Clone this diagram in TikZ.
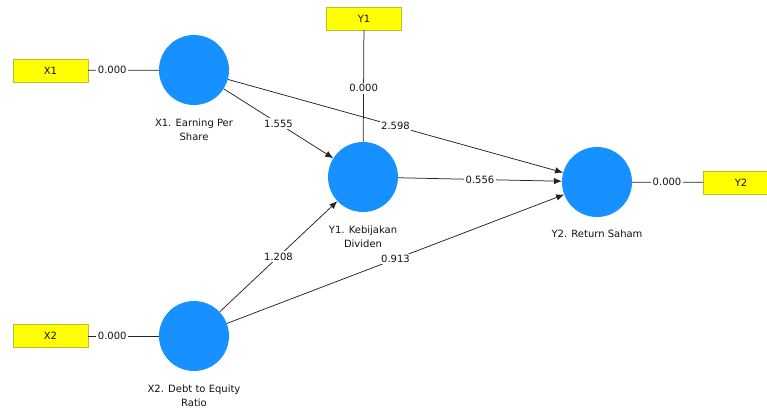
\documentclass[tikz,border=0pt]{standalone}
\usepackage{fontspec}
\setsansfont{DejaVu Sans}
\usetikzlibrary{arrows.meta}

\begin{document}
\begin{tikzpicture}[x=1pt, y=-1pt, line join=round,
    construct/.style={circle, fill=latentfill, minimum size=70pt, inner sep=0pt},
    indicator/.style={rectangle, draw=boxborder, fill=boxfill, minimum width=75pt,
        minimum height=23pt, inner sep=0pt, text=captext,
        font=\sffamily\fontsize{10}{12}\selectfont},
    caption/.style={anchor=north, align=center, inner sep=0pt, text=captext,
        font=\sffamily\fontsize{10}{13.5}\selectfont},
    structural/.style={draw=pathline, line width=0.75pt, -{Latex[length=8pt,width=6.5pt]}},
    loading/.style={draw=pathline, line width=0.75pt},
    coef/.style={fill=white, inner sep=1.5pt, text=captext,
        font=\sffamily\fontsize{10}{12}\selectfont}]

    % --- Colors matching the SmartPLS output ---
    \definecolor{latentfill}{RGB}{22, 145, 255}
    \definecolor{boxfill}{RGB}{255, 255, 0}
    \definecolor{boxborder}{RGB}{190, 190, 40}
    \definecolor{pathline}{RGB}{35, 35, 35}
    \definecolor{captext}{RGB}{20, 15, 30}

    \useasboundingbox (0, 0) rectangle (767, 410);

    % --- Latent variables ---
    \node[construct] (x1) at (194, 70) {};
    \node[construct] (x2) at (194, 336) {};
    \node[construct] (y1) at (363, 177) {};
    \node[construct] (y2) at (597, 182) {};

    % --- Indicators ---
    \node[indicator] (x1ind) at (50.5, 70.5) {X1};
    \node[indicator] (x2ind) at (50.5, 336) {X2};
    \node[indicator] (y1ind) at (364, 18.5) {Y1};
    \node[indicator] (y2ind) at (741, 182.5) {Y2};

    % --- Captions ---
    \node[caption] (x1cap) at (194, 119) {X1. Earning Per\\Share};
    \node[caption] (x2cap) at (194, 385) {X2. Debt to Equity\\Ratio};
    \node[caption] (y1cap) at (363, 226) {Y1. Kebijakan\\Dividen};
    \node[caption] (y2cap) at (597, 230) {Y2. Return Saham};

    % --- 1. Outer loadings ---
    \draw[loading] (x1ind) -- node[coef, pos=0.34] {0.000} (x1);
    \draw[loading] (x2ind) -- node[coef, pos=0.34] {0.000} (x2);
    \draw[loading] (y1ind) -- node[coef, pos=0.52] {0.000} (y1);
    \draw[loading] (y2) -- node[coef, pos=0.49] {0.000} (y2ind);

    % --- 2. Path coefficients ---
    \foreach \u/\v/\c in {x1/y1/1.555, x1/y2/2.598, y1/y2/0.556,
        x2/y1/1.208, x2/y2/0.913} {
        \draw[structural] (\u) -- node[coef] {\c} (\v);
    }

\end{tikzpicture}
\end{document}
